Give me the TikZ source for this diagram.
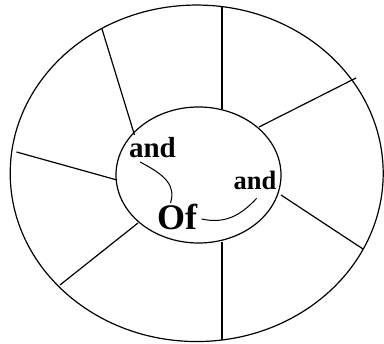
\documentclass[tikz,border=0pt]{standalone}
\usepackage{fontspec}
\setmainfont{Liberation Serif}
\usetikzlibrary{shapes.geometric}
\begin{document}
\begin{tikzpicture}[x=1pt,y=-1pt,
  ring/.style={draw,ellipse,inner sep=0pt,line width=1.2pt},
  spoke/.style={line width=1.2pt},
  link/.style={line width=1pt},
  word/.style={inner sep=0pt,anchor=base,font=\bfseries}]
\useasboundingbox (0,0) rectangle (384,344);
\node[ring,minimum width=373pt,minimum height=336.5pt] (outer) at (196.7,173.3) {};
\node[ring,minimum width=165pt,minimum height=136pt] (inner) at (198.5,175) {};
% spoke end points
\coordinate (s1a) at (222,6.6);   \coordinate (s1b) at (222,109.5);
\coordinate (s2a) at (102,29);    \coordinate (s2b) at (134.5,135);
\coordinate (s3a) at (16.5,152);  \coordinate (s3b) at (117,180);
\coordinate (s4a) at (60,285);    \coordinate (s4b) at (138,223);
\coordinate (s5a) at (222,340);   \coordinate (s5b) at (222,242.5);
\coordinate (s6a) at (363,249);   \coordinate (s6b) at (281,195);
\coordinate (s7a) at (356,78);    \coordinate (s7b) at (259,127);
\foreach \i in {1,...,7} \draw[spoke] (s\i a) -- (s\i b);
% words
\node[word,font=\bfseries\fontsize{29}{29}\selectfont] (and1) at (152.5,158) {and};
\node[word,font=\bfseries\fontsize{26.5}{26.5}\selectfont] (and2) at (255,190) {and};
\node[word,font=\bfseries\fontsize{36}{36}\selectfont] (of) at (177,230) {Of};
\coordinate (c1a) at (140,162); \coordinate (c1b) at (170.5,203);
\coordinate (c2a) at (201.5,219); \coordinate (c2b) at (256.7,198.3);
\draw[link] (c1a) .. controls (165,175) and (176,185) .. (c1b);
\draw[link] (c2a) .. controls (225,224) and (240,216) .. (c2b);
\end{tikzpicture}
\end{document}
